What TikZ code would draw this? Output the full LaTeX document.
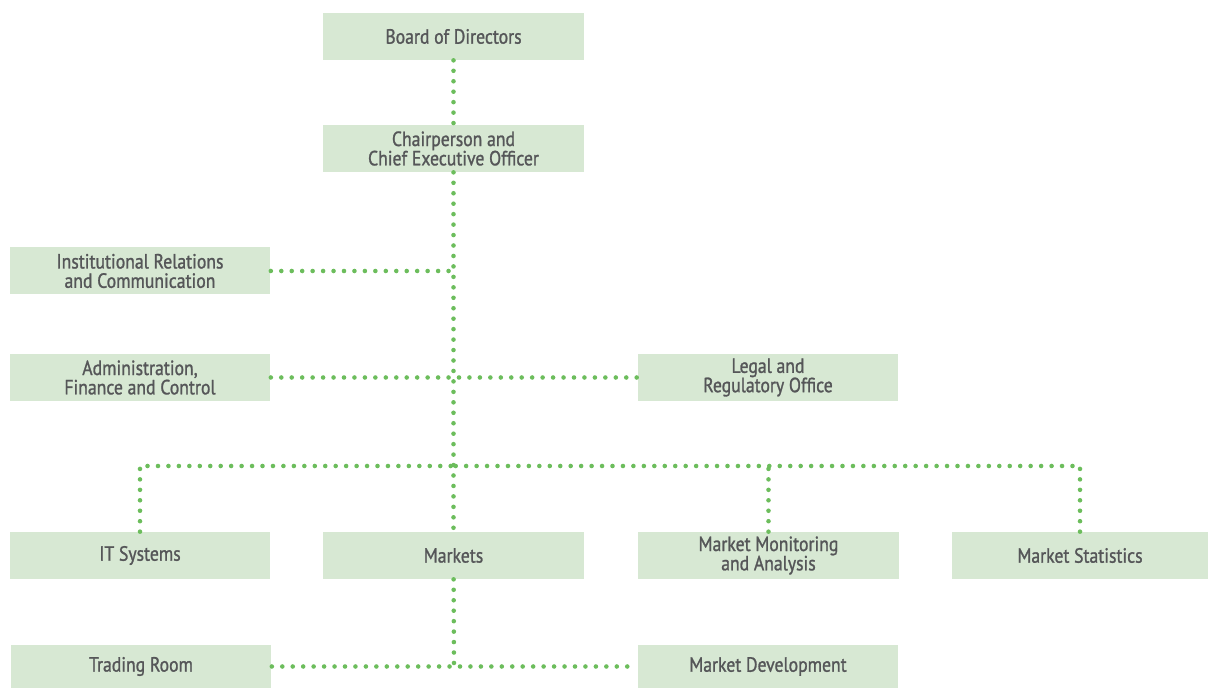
\documentclass[tikz,border=0pt]{standalone}
\usepackage{fontspec}
\newfontfamily\orgfont{PT Sans}[FakeStretch=0.86,FakeBold=1.2]
\usepackage{tikz}
\usepackage{color}
\definecolor{boxgreen}{RGB}{215, 232, 211}
\definecolor{dotgreen}{RGB}{108, 189, 92}
\definecolor{labelgray}{RGB}{85, 86, 88}

\newcommand\tightlines{\lineskiplimit=-20pt\relax}

\tikzset{
  orgbox/.style={fill=boxgreen,minimum width=5.22cm,minimum height=0.94cm,inner sep=0pt,
    align=center,text=labelgray,
    font=\orgfont\fontsize{11.7}{11}\selectfont\tightlines},
  link/.style={dotgreen,line width=2.6pt,line cap=round,dash pattern=on 0pt off 5.95pt}
}

\begin{document}
\begin{tikzpicture}[x=0.02cm,y=-0.02cm]
        \useasboundingbox (0,0) rectangle (1208,688);

        \coordinate (v1) at (453.5,36.5);
        \coordinate (v2) at (453.5,148.5);
        \coordinate (v3) at (140,271);
        \coordinate (v4) at (140,377.5);
        \coordinate (v5) at (768,377.5);
        \coordinate (v6) at (140,555.5);
        \coordinate (v7) at (453.5,555.5);
        \coordinate (v8) at (768.5,555.5);
        \coordinate (v9) at (1080,555.5);
        \coordinate (v10) at (141,666.5);
        \coordinate (v11) at (768,666.5);

        \node[orgbox] (board) at (v1) {Board of Directors};
        \node[orgbox] (chair) at (v2) {Chairperson and\\Chief Executive Officer};
        \node[orgbox] (inst) at (v3) {Institutional Relations\\and Communication};
        \node[orgbox] (admin) at (v4) {Administration,\\Finance and Control};
        \node[orgbox] (legal) at (v5) {Legal and\\Regulatory Office};
        \node[orgbox] (it) at (v6) {IT Systems};
        \node[orgbox] (markets) at (v7) {Markets};
        \node[orgbox] (monitor) at (v8) {Market Monitoring\\and Analysis};
        \node[orgbox,minimum width=5.12cm] (stats) at (v9) {Market Statistics};
        \node[orgbox,minimum height=0.86cm] (trading) at (v10) {Trading Room};
        \node[orgbox,minimum height=0.86cm] (develop) at (v11) {Market Development};

        \coordinate (bus) at (454,466);
        \coordinate (split) at (454,668);

        \draw[link] (board) -- (chair);
        \draw[link] (chair) -- (markets);
        \draw[link] (inst) -- (inst -| chair);
        \draw[link] (admin) -- (legal);
        \draw[link] (it) |- (bus);
        \draw[link] (stats) |- (bus);
        \draw[link] (monitor) -- (monitor |- bus);
        \draw[link] (markets) -- (split);
        \draw[link] (trading) -- (develop);
\end{tikzpicture}
\end{document}
